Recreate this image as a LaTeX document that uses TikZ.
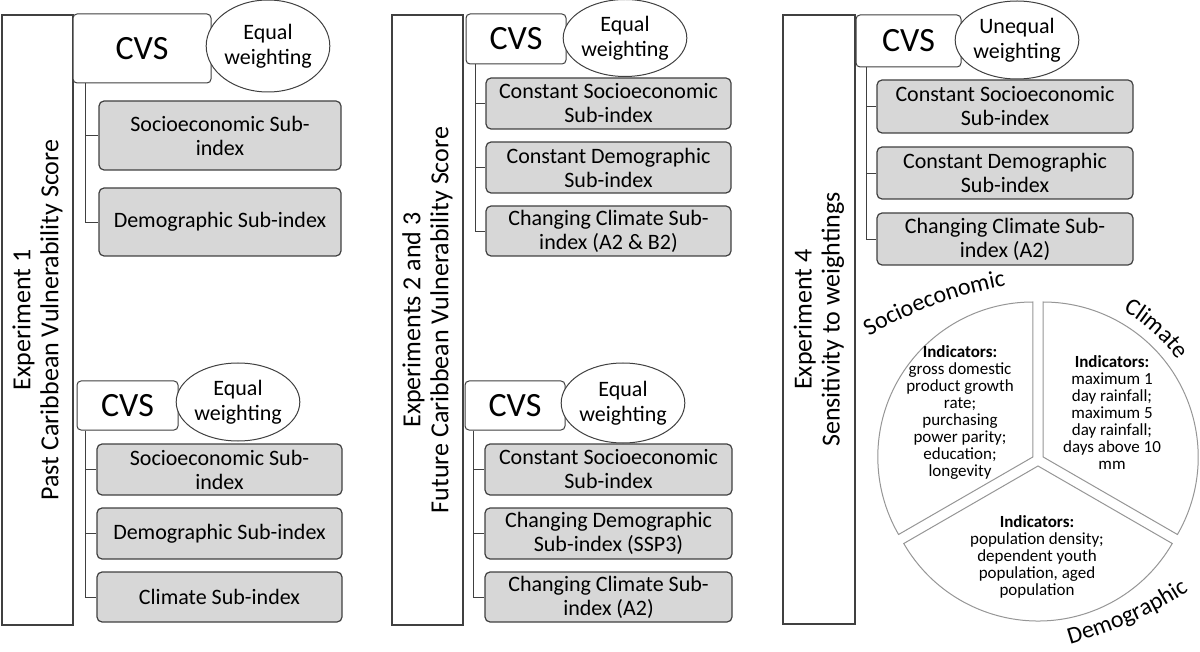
\documentclass[tikz,border=0pt]{standalone}
\usepackage{fontspec}
\setmainfont{Carlito}
\usepackage{tikz}
\usetikzlibrary{shapes.geometric,calc,decorations.text}
\definecolor{boxgray}{RGB}{215,215,215}
\definecolor{linegray}{RGB}{64,64,64}
\definecolor{piegray}{RGB}{150,150,150}
\newcommand{\pielabfont}{\fontsize{24}{24}\selectfont}
\tikzstyle{expbox}=[draw=linegray,line width=1.3pt,rotate=90,align=center,inner sep=0pt,font=\fontsize{26}{28}\selectfont]
\tikzstyle{cvsbox}=[draw=linegray,line width=1pt,rounded corners=4pt,fill=white,inner sep=0pt,font=\fontsize{34}{36}\selectfont]
\tikzstyle{wgt}=[ellipse,draw=linegray,line width=1pt,fill=white,align=center,inner sep=0pt,font=\fontsize{22}{25}\selectfont]
\tikzstyle{sub}=[draw=linegray,line width=1.2pt,rounded corners=5pt,fill=boxgray,align=center,inner sep=0pt,font=\fontsize{22}{24}\selectfont]
\tikzstyle{tree}=[draw=linegray,line width=0.9pt]
\tikzstyle{slice}=[draw=piegray,fill=white,line width=1pt]
\tikzstyle{ind}=[align=center,font=\fontsize{17}{17}\selectfont]
\tikzstyle{pielab}=[decorate,decoration={text along path,text align=center}]
\begin{document}
\begin{tikzpicture}[x=1pt,y=1pt]
  \useasboundingbox (0,0) rectangle (1200,-652);

  % experiment frames, text turned upright
  \node[expbox,minimum width=610,minimum height=71] (exp1) at (37.5,-320)
    {Experiment 1\\Past Caribbean Vulnerability Score};
  \node[expbox,minimum width=610,minimum height=71] (exp23) at (427.5,-320)
    {Experiments 2 and 3\\Future Caribbean Vulnerability Score};
  \node[expbox,minimum width=609,minimum height=72] (exp4) at (819,-319.5)
    {Experiment 4\\Sensitivity to weightings};

  % score boxes and their weighting
  \node[cvsbox,minimum width=138,minimum height=69] (cvsA) at (142,-48.5) {CVS};
  \node[cvsbox,minimum width=101,minimum height=49] (cvsB) at (127.5,-405.5) {CVS};
  \node[cvsbox,minimum width=100,minimum height=50] (cvsC) at (516,-39) {CVS};
  \node[cvsbox,minimum width=100,minimum height=49] (cvsD) at (515,-405.5) {CVS};
  \node[cvsbox,minimum width=105,minimum height=52] (cvsE) at (908.5,-41) {CVS};

  \node[wgt,minimum width=120,minimum height=92] (wA) at (268,-46) {Equal\\weighting};
  \node[wgt,minimum width=120,minimum height=78] (wB) at (238,-402) {Equal\\weighting};
  \node[wgt,minimum width=122,minimum height=77] (wC) at (625,-38) {Equal\\weighting};
  \node[wgt,minimum width=120,minimum height=80] (wD) at (623,-403) {Equal\\weighting};
  \node[wgt,minimum width=118,minimum height=78] (wE) at (1017,-40) {Unequal\\weighting};

  % the sub-index boxes
  \foreach \pos/\bw/\bh/\name/\txt in {
    {(220,-135.5)/242/69/subA1/{Socioeconomic Sub-\\index}},
    {(220,-222)/242/68/subA2/{Demographic Sub-index}},
    {(219.5,-469.5)/245/51/subB1/{Socioeconomic Sub-\\index}},
    {(219.5,-533.5)/245/51/subB2/{Demographic Sub-index}},
    {(219.5,-597)/245/50/subB3/{Climate Sub-index}},
    {(608.5,-103.5)/245/51/subC1/{Constant Socioeconomic\\Sub-index}},
    {(608.5,-167.5)/245/51/subC2/{Constant Demographic\\Sub-index}},
    {(608.5,-231)/245/50/subC3/{Changing Climate Sub-\\index (A2 \& B2)}},
    {(608.5,-469.5)/247/51/subD1/{Constant Socioeconomic\\Sub-index}},
    {(608.5,-533.5)/247/51/subD2/{Changing Demographic\\Sub-index (SSP3)}},
    {(608.5,-597)/247/50/subD3/{Changing Climate Sub-\\index (A2)}},
    {(1005,-106.5)/256/53/subE1/{Constant Socioeconomic\\Sub-index}},
    {(1005,-173)/256/52/subE2/{Constant Demographic\\Sub-index}},
    {(1005,-239)/256/52/subE3/{Changing Climate Sub-\\index (A2)}}}
    \node[sub,minimum width=\bw,minimum height=\bh] (\name) at \pos {\txt};

  % tree lines from each CVS box
  \coordinate (tA) at ([xshift=13pt]cvsA.south west);
  \coordinate (tB) at ([xshift=9pt]cvsB.south west);
  \coordinate (tC) at ([xshift=10pt]cvsC.south west);
  \coordinate (tD) at ([xshift=9pt]cvsD.south west);
  \coordinate (tE) at ([xshift=11pt]cvsE.south west);

  \foreach \t/\s in {tA/subA1,tA/subA2,tB/subB1,tB/subB2,tB/subB3,
                     tC/subC1,tC/subC2,tC/subC3,tD/subD1,tD/subD2,tD/subD3,
                     tE/subE1,tE/subE2,tE/subE3}
    \path[tree] (\t) |- (\s.west);

  % exploded pie of the three sub-indices
  \coordinate (pc) at (1038,-460);
  \draw[slice] ($(pc)+(150:6)$) -- ++(90:155) arc (90:210:155) -- cycle;
  \draw[slice] ($(pc)+(30:6)$) -- ++(-30:155) arc (-30:90:155) -- cycle;
  \draw[slice] ($(pc)+(270:6)$) -- ++(210:155) arc (210:330:155) -- cycle;

  \node[ind] (indS) at (960,-412) {\textbf{Indicators:}\\gross domestic\\product growth\\rate;\\purchasing\\power parity;\\education;\\longevity};
  \node[ind] (indC) at (1112,-413) {\textbf{Indicators:}\\maximum 1\\day rainfall;\\maximum 5\\day rainfall;\\days above 10\\mm};
  \node[ind] (indD) at (1037,-557) {\textbf{Indicators:}\\population density;\\dependent youth\\population, aged\\population};

  % curved slice names
  \path[pielab,decoration={text={|\pielabfont|Socioeconomic}}]
    (864,-340) .. controls (900,-316) and (960,-292) .. (1012,-285);
  \path[pielab,decoration={text={|\pielabfont|Climate}}]
    ($(pc)+(75:172)$) arc (75:21:172);
  \path[pielab,decoration={text={|\pielabfont|Demographic}}]
    (1064,-646) .. controls (1100,-636) and (1152,-617) .. (1194,-587);
\end{tikzpicture}
\end{document}
